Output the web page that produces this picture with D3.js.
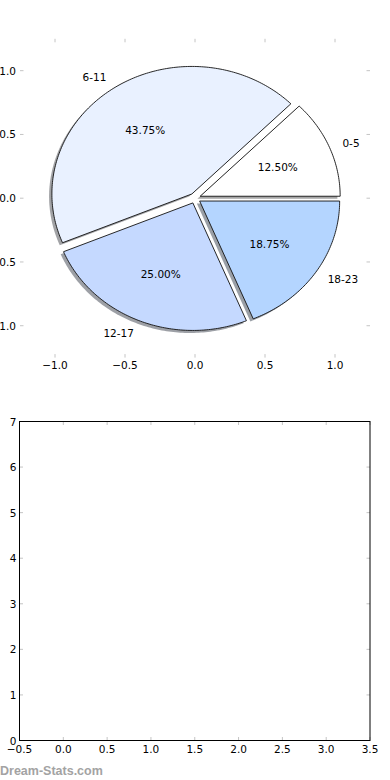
<html>
    <head>
        <meta charset="utf-8">
        <script src="https://d3js.org/d3.v7.min.js"></script>
        <style>
            body { margin: 0; padding: 0; background: #fff; }
            svg { display: block; }
            text { font-family: "DejaVu Sans", sans-serif; }
        </style>
    </head>
    <body>
        <svg id="chart" width="390" height="780"></svg>
    </body>
    <script>
        // ---- data ----
        const labels = ["0-5", "6-11", "12-17", "18-23"];
        const shares = [12.5, 43.75, 25.0, 18.75];
        const colors = ["#ffffff", "#e9f1ff", "#c5d9ff", "#b4d5ff"];
        const explode = [0.04, 0.04, 0.04, 0.04];

        const pieTicks = [-1.0, -0.5, 0.0, 0.5, 1.0];
        const barXTicks = [-0.5, 0.0, 0.5, 1.0, 1.5, 2.0, 2.5, 3.0, 3.5];
        const barYTicks = [0, 1, 2, 3, 4, 5, 6, 7];

        const svg = d3.select("#chart");
        const fmtTick = d => d3.format(".1f")(d).replace("-", "\u2212");
        const tickColor = "#c4c4c4";
        const fs = 10.5;

        // ---- pie axes ----
        const px = d3.scaleLinear().domain([-1.25, 1.25]).range([20, 370]);
        const py = d3.scaleLinear().domain([-1.25, 1.25]).range([357.6, 38.8]);

        const pieG = svg.append("g");

        // tick marks (no frame)
        pieTicks.forEach(t => {
            pieG.append("line").attr("x1", px(t)).attr("x2", px(t))
                .attr("y1", py.range()[1]).attr("y2", py.range()[1] + 3.5)
                .attr("stroke", tickColor).attr("stroke-width", 1);
            pieG.append("line").attr("x1", px(t)).attr("x2", px(t))
                .attr("y1", py.range()[0]).attr("y2", py.range()[0] - 3.5)
                .attr("stroke", tickColor).attr("stroke-width", 1);
            pieG.append("line").attr("y1", py(t)).attr("y2", py(t))
                .attr("x1", px.range()[0]).attr("x2", px.range()[0] + 3.5)
                .attr("stroke", tickColor).attr("stroke-width", 1);
            pieG.append("line").attr("y1", py(t)).attr("y2", py(t))
                .attr("x1", px.range()[1]).attr("x2", px.range()[1] - 3.5)
                .attr("stroke", tickColor).attr("stroke-width", 1);
            pieG.append("text").attr("x", px(t)).attr("y", py.range()[0] + 11)
                .attr("text-anchor", "middle").attr("font-size", fs)
                .text(fmtTick(t));
            pieG.append("text").attr("x", 16).attr("y", py(t) + 4)
                .attr("text-anchor", "end").attr("font-size", fs)
                .text(fmtTick(t));
        });

        // wedges: d3.pie gives cumulative angles, read counter-clockwise from +x
        const pie = d3.pie().sort(null).startAngle(0).endAngle(2 * Math.PI);
        const arcs = pie(shares).map((a, i) => {
            const mid = (a.startAngle + a.endAngle) / 2;
            return Object.assign(a, {
                i: i,
                mid: mid,
                cx: explode[i] * Math.cos(mid),
                cy: explode[i] * Math.sin(mid)
            });
        });

        const line = d3.line().x(p => px(p[0])).y(p => py(p[1]));
        function wedgePts(a, dx, dy) {
            const pts = [[a.cx + dx, a.cy + dy]];
            const n = Math.max(8, Math.ceil((a.endAngle - a.startAngle) * 60));
            for (let k = 0; k <= n; k++) {
                const t = a.startAngle + (a.endAngle - a.startAngle) * k / n;
                pts.push([a.cx + dx + Math.cos(t), a.cy + dy + Math.sin(t)]);
            }
            return pts;
        }

        // shadows under all wedges
        pieG.selectAll("path.shadow").data(arcs)
            .join("path")
            .attr("class", "shadow")
            .attr("d", a => line(wedgePts(a, -0.02, -0.02)) + "Z")
            .attr("fill", a => {
                const c = d3.rgb(colors[a.i]);
                return d3.rgb(c.r * 0.3, c.g * 0.3, c.b * 0.3);
            })
            .attr("fill-opacity", 0.5)
            .attr("stroke", "none");

        pieG.selectAll("path.wedge").data(arcs)
            .join("path")
            .attr("class", "wedge")
            .attr("d", a => line(wedgePts(a, 0, 0)) + "Z")
            .attr("fill", a => colors[a.i])
            .attr("stroke", "#111")
            .attr("stroke-width", 0.9)
            .attr("stroke-linejoin", "miter");

        // outer labels
        pieG.selectAll("text.lab").data(arcs)
            .join("text")
            .attr("class", "lab")
            .attr("x", a => px(a.cx + 1.1 * Math.cos(a.mid)))
            .attr("y", a => py(a.cy + 1.1 * Math.sin(a.mid)) + 4)
            .attr("text-anchor", a => Math.cos(a.mid) > 0 ? "start" : "end")
            .attr("font-size", fs)
            .text(a => labels[a.i]);

        // percentages
        pieG.selectAll("text.pct").data(arcs)
            .join("text")
            .attr("class", "pct")
            .attr("x", a => px(a.cx + 0.6 * Math.cos(a.mid)))
            .attr("y", a => py(a.cy + 0.6 * Math.sin(a.mid)) + 4)
            .attr("text-anchor", "middle")
            .attr("font-size", fs)
            .text(a => d3.format(".2f")(a.data) + "%");

        // ---- empty lower axes ----
        const bx = d3.scaleLinear().domain([-0.5, 3.5]).range([19.5, 370]);
        const by = d3.scaleLinear().domain([0, 7]).range([740.5, 421.5]);
        const botG = svg.append("g");

        barXTicks.forEach(t => {
            botG.append("line").attr("x1", bx(t)).attr("x2", bx(t))
                .attr("y1", by.range()[0]).attr("y2", by.range()[0] - 3.5)
                .attr("stroke", tickColor);
            botG.append("line").attr("x1", bx(t)).attr("x2", bx(t))
                .attr("y1", by.range()[1]).attr("y2", by.range()[1] + 3.5)
                .attr("stroke", tickColor);
            botG.append("text").attr("x", bx(t)).attr("y", by.range()[0] + 12)
                .attr("text-anchor", "middle").attr("font-size", fs)
                .text(fmtTick(t));
        });
        barYTicks.forEach(t => {
            botG.append("line").attr("y1", by(t)).attr("y2", by(t))
                .attr("x1", bx.range()[0]).attr("x2", bx.range()[0] + 3.5)
                .attr("stroke", tickColor);
            botG.append("line").attr("y1", by(t)).attr("y2", by(t))
                .attr("x1", bx.range()[1]).attr("x2", bx.range()[1] - 3.5)
                .attr("stroke", tickColor);
            botG.append("text").attr("x", 16.5).attr("y", by(t) + 4)
                .attr("text-anchor", "end").attr("font-size", fs)
                .text(String(t));
        });

        botG.append("rect")
            .attr("x", bx.range()[0]).attr("y", by.range()[1])
            .attr("width", bx.range()[1] - bx.range()[0])
            .attr("height", by.range()[0] - by.range()[1])
            .attr("fill", "none").attr("stroke", "#000").attr("stroke-width", 1);

        // watermark
        svg.append("text")
            .attr("x", 0).attr("y", 775)
            .style("font-family", "'Liberation Sans', Arial, sans-serif")
            .attr("font-weight", "bold")
            .attr("font-size", 12.5)
            .attr("fill", "#a3a3a3")
            .text("Dream-Stats.com");
    </script>
</html>
